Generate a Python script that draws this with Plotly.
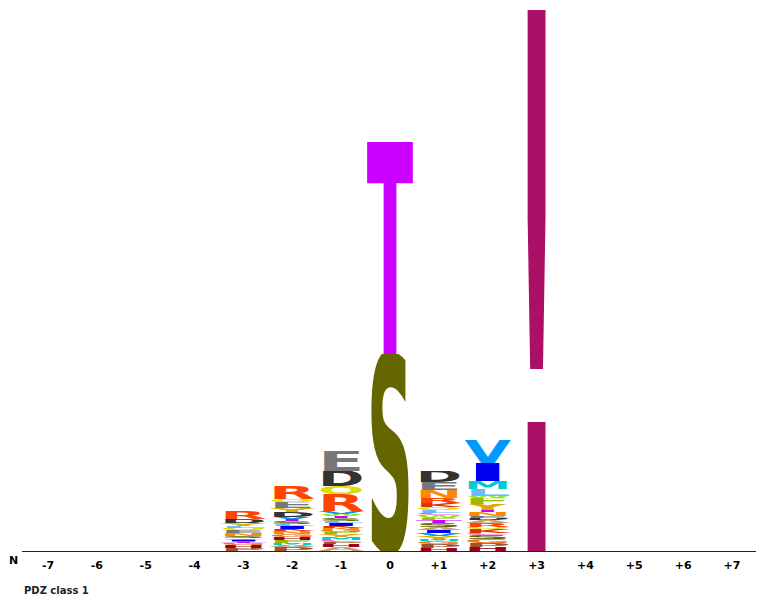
import base64
import plotly.graph_objects as go

# ---------------- data ----------------
POSITIONS = [-7, -6, -5, -4, -3, -2, -1, 0, 1, 2, 3, 4, 5, 6, 7]
TICK_LABELS = ["-7", "-6", "-5", "-4", "-3", "-2", "-1", "0",
               "+1", "+2", "+3", "+4", "+5", "+6", "+7"]

# stacks listed bottom -> top, heights in bits
P_M3_LETTERS = ["P", "H", "G", "T", "I", "F", "S", "N", "E", "Q", "L", "Y", "D", "R"]
P_M3_BITS = [0.024, 0.024, 0.016, 0.012, 0.016, 0.012, 0.016, 0.024, 0.024, 0.016, 0.016, 0.024, 0.032, 0.064]

P_M2_LETTERS = ["P", "A", "M", "F", "H", "G", "N", "K", "I", "L", "S", "T", "V", "D", "Y", "E", "Q", "R"]
P_M2_BITS = [0.032, 0.016, 0.016, 0.024, 0.024, 0.024, 0.024, 0.016, 0.024, 0.016, 0.024, 0.016, 0.016, 0.040, 0.032, 0.048, 0.024, 0.104]

P_M1_LETTERS = ["A", "H", "P", "C", "M", "Y", "F", "G", "N", "K", "I", "L", "S", "T", "W", "V", "R", "Q", "D", "E"]
P_M1_BITS = [0.032, 0.024, 0.016, 0.016, 0.024, 0.024, 0.016, 0.016, 0.016, 0.016, 0.024, 0.016, 0.024, 0.016, 0.016, 0.024, 0.136, 0.064, 0.120, 0.160]

P_0_LETTERS = ["S", "T"]
P_0_BITS = [1.576, 1.696]

P_P1_LETTERS = ["H", "P", "G", "M", "Y", "V", "I", "A", "S", "T", "F", "W", "C", "L", "Q", "K", "R", "N", "E", "D"]
P_P1_BITS = [0.024, 0.032, 0.024, 0.016, 0.024, 0.024, 0.024, 0.024, 0.032, 0.024, 0.016, 0.024, 0.016, 0.024, 0.024, 0.032, 0.040, 0.064, 0.064, 0.088]

P_P2_LETTERS = ["H", "P", "G", "S", "C", "K", "Q", "R", "A", "D", "E", "N", "T", "Y", "F", "W", "L", "M", "I", "V"]
P_P2_BITS = [0.032, 0.032, 0.032, 0.032, 0.016, 0.032, 0.016, 0.032, 0.024, 0.016, 0.016, 0.032, 0.016, 0.048, 0.048, 0.016, 0.056, 0.064, 0.144, 0.184]

P_P3_LETTERS = ["!"]
P_P3_BITS = [4.328]

STACKS = {
    -3: (P_M3_LETTERS, P_M3_BITS),
    -2: (P_M2_LETTERS, P_M2_BITS),
    -1: (P_M1_LETTERS, P_M1_BITS),
    0: (P_0_LETTERS, P_0_BITS),
    1: (P_P1_LETTERS, P_P1_BITS),
    2: (P_P2_LETTERS, P_P2_BITS),
    3: (P_P3_LETTERS, P_P3_BITS),
}

# ---------------- styles ----------------
LETTER_COLORS = {
    "A": "#C8A070", "C": "#FF66CC", "D": "#333333", "E": "#777777",
    "F": "#99BB00", "G": "#EE7722", "H": "#990022", "I": "#0000EE",
    "K": "#DD3300", "L": "#66BBFF", "M": "#00CCCC", "N": "#FF8800",
    "P": "#A0522D", "Q": "#DDDD00", "R": "#FF4400", "S": "#666600",
    "T": "#CC00FF", "V": "#0099FF", "W": "#88EE22", "Y": "#DDAA00",
    "!": "#AA1166",
}
COLUMN_WIDTH = 0.95
CAP_HEIGHT = 0.729  # DejaVu Sans cap height (em)


def glyph_uri(letter, color):
    fs = 100.0 / CAP_HEIGHT
    svg = (
        '<svg xmlns="http://www.w3.org/2000/svg" width="100" height="100" '
        'viewBox="0 0 100 100" preserveAspectRatio="none">'
        f'<text x="0" y="100" font-family="DejaVu Sans" font-weight="bold" '
        f'font-size="{fs:.2f}" textLength="100" lengthAdjust="spacingAndGlyphs" '
        f'fill="{color}">{letter}</text></svg>'
    )
    return "data:image/svg+xml;base64," + base64.b64encode(svg.encode()).decode()


images = []
totals = []
for pos in POSITIONS:
    letters, bits = STACKS.get(pos, ([], []))
    base = 0.0
    for letter, h in zip(letters, bits):
        images.append(dict(
            source=glyph_uri(letter, LETTER_COLORS[letter]),
            xref="x", yref="y", x=pos, y=base,
            sizex=COLUMN_WIDTH, sizey=h,
            xanchor="center", yanchor="bottom",
            sizing="stretch", layer="above",
        ))
        base += h
    totals.append(base)

fig = go.Figure()
fig.add_trace(go.Bar(x=POSITIONS, y=totals,
                     marker=dict(color="rgba(0,0,0,0)", line=dict(width=0)),
                     width=COLUMN_WIDTH, hoverinfo="x+y", showlegend=False))

fig.update_layout(
    width=756, height=589,
    margin=dict(l=14, r=2, t=2, b=46),
    plot_bgcolor="white", paper_bgcolor="white",
    images=images,
    font=dict(family="DejaVu Sans", size=11, color="#000000"),
    xaxis=dict(
        range=[-7.532, 7.614], tickmode="array", tickvals=POSITIONS,
        ticktext=TICK_LABELS, showgrid=False, zeroline=False,
        showline=True, linecolor="#222222", linewidth=1,
        ticks="", ticklabelstandoff=4,
        tickfont=dict(family="DejaVu Sans", size=11, color="#000000", weight="bold"),
        fixedrange=True,
    ),
    yaxis=dict(range=[0, 4.328], visible=False, fixedrange=True),
    annotations=[
        dict(text="N", xref="paper", yref="paper", x=0, y=0, xanchor="right",
             yanchor="middle", xshift=-2, yshift=-9, showarrow=False,
             font=dict(family="DejaVu Sans", size=11, color="#000000", weight="bold")),
        dict(text="PDZ class 1", xref="paper", yref="paper", x=0, y=0, xanchor="left",
             yanchor="middle", yshift=-39, showarrow=False,
             font=dict(family="DejaVu Sans", size=10, color="#222222", weight="bold")),
    ],
)

fig.write_html("out.html")
